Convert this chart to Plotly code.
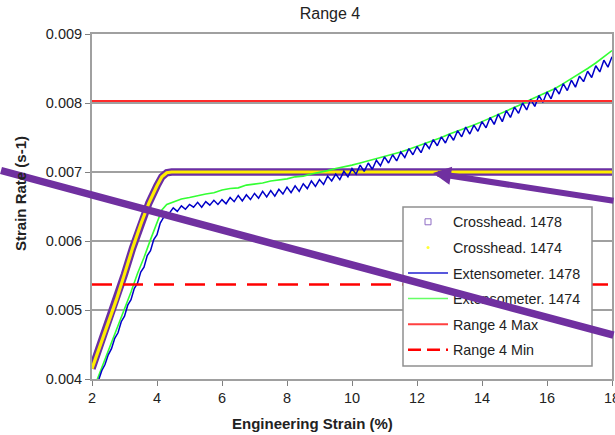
import plotly.graph_objects as go

# ---- data ---------------------------------------------------------------
# Crosshead-based strain rate (programmed ramp, both specimens)
cross_strain = [2.0, 2.25, 2.5, 2.75, 3.0, 3.25, 3.5, 3.75, 4.0, 4.15, 4.3,
                4.45, 6.0, 8.0, 10.0, 12.0, 14.0, 16.0, 18.0]
cross_rate_1478 = [0.00415, 0.00448, 0.00480, 0.00515, 0.00552, 0.00590,
                   0.00624, 0.00655, 0.00680, 0.00693, 0.00699, 0.00700,
                   0.00700, 0.00700, 0.00700, 0.00700, 0.00700, 0.00700,
                   0.00700]
cross_rate_1474 = [0.00415, 0.00448, 0.00480, 0.00515, 0.00552, 0.00590,
                   0.00624, 0.00655, 0.00680, 0.00693, 0.00699, 0.00700,
                   0.00700, 0.00700, 0.00700, 0.00700, 0.00700, 0.00700,
                   0.00700]

# Extensometer strain rate, specimen 1478 (noisy signal)
ext_strain_1478 = [
    2.2, 2.3, 2.4, 2.5, 2.6, 2.7, 2.8, 2.9, 3.0, 3.1, 3.2, 3.3, 3.4, 3.5,
    3.6, 3.7, 3.8, 3.9, 4.0, 4.1, 4.2,
    4.25, 4.375, 4.5, 4.625, 4.75, 4.875, 5.0,
    5.125, 5.25, 5.375, 5.5, 5.625, 5.75, 5.875, 6.0,
    6.125, 6.25, 6.375, 6.5, 6.625, 6.75, 6.875, 7.0,
    7.125, 7.25, 7.375, 7.5, 7.625, 7.75, 7.875, 8.0,
    8.125, 8.25, 8.375, 8.5, 8.625, 8.75, 8.875, 9.0,
    9.125, 9.25, 9.375, 9.5, 9.625, 9.75, 9.875, 10.0,
    10.125, 10.25, 10.375, 10.5, 10.625, 10.75, 10.875, 11.0,
    11.125, 11.25, 11.375, 11.5, 11.625, 11.75, 11.875, 12.0,
    12.125, 12.25, 12.375, 12.5, 12.625, 12.75, 12.875, 13.0,
    13.125, 13.25, 13.375, 13.5, 13.625, 13.75, 13.875, 14.0,
    14.125, 14.25, 14.375, 14.5, 14.625, 14.75, 14.875, 15.0,
    15.125, 15.25, 15.375, 15.5, 15.625, 15.75, 15.875, 16.0,
    16.125, 16.25, 16.375, 16.5, 16.625, 16.75, 16.875, 17.0,
    17.125, 17.25, 17.375, 17.5, 17.625, 17.75, 17.875, 18.0,
]
ext_rate_1478 = [
    0.00398, 0.00412, 0.00421, 0.00435, 0.00444, 0.00459, 0.00467, 0.00483,
    0.00491, 0.00507, 0.00515, 0.00531, 0.00539, 0.00555, 0.00562, 0.00579,
    0.00586, 0.00602, 0.00609, 0.00626, 0.00634,
    0.00642, 0.00640, 0.00648, 0.00643, 0.00651, 0.00646, 0.00653,
    0.00649, 0.00656, 0.00649, 0.00657, 0.00652, 0.00659, 0.00653, 0.00660,
    0.00654, 0.00663, 0.00657, 0.00666, 0.00658, 0.00667, 0.00660, 0.00669,
    0.00662, 0.00672, 0.00664, 0.00673, 0.00665, 0.00675, 0.00668, 0.00678,
    0.00670, 0.00680, 0.00672, 0.00683, 0.00676, 0.00687, 0.00679, 0.00689,
    0.00682, 0.00694, 0.00687, 0.00697, 0.00689, 0.00701, 0.00693, 0.00705,
    0.00697, 0.00710, 0.00701, 0.00713, 0.00704, 0.00717, 0.00709, 0.00722,
    0.00713, 0.00725, 0.00716, 0.00729, 0.00721, 0.00734, 0.00725, 0.00737,
    0.00728, 0.00742, 0.00734, 0.00747, 0.00738, 0.00751, 0.00742, 0.00755,
    0.00746, 0.00760, 0.00751, 0.00765, 0.00755, 0.00768, 0.00759, 0.00773,
    0.00764, 0.00779, 0.00769, 0.00784, 0.00773, 0.00789, 0.00779, 0.00794,
    0.00785, 0.00800, 0.00790, 0.00805, 0.00795, 0.00811, 0.00801, 0.00816,
    0.00806, 0.00822, 0.00813, 0.00828, 0.00818, 0.00833, 0.00823, 0.00839,
    0.00831, 0.00846, 0.00837, 0.00854, 0.00845, 0.00862, 0.00852, 0.00867,
]

# Extensometer strain rate, specimen 1474
ext_strain_1474 = [
    2.15, 2.4, 2.6, 2.8, 3.0, 3.2, 3.4, 3.6, 3.8, 4.0, 4.15, 4.3,
    4.5, 4.75, 5.0, 5.25, 5.5, 5.75, 6.0, 6.25, 6.5, 6.75, 7.0, 7.25,
    7.5, 7.75, 8.0, 8.25, 8.5, 8.75, 9.0, 9.25, 9.5, 9.75, 10.0, 10.25,
    10.5, 10.75, 11.0, 11.25, 11.5, 11.75, 12.0, 12.25, 12.5, 12.75, 13.0,
    13.25, 13.5, 13.75, 14.0, 14.25, 14.5, 14.75, 15.0, 15.25, 15.5, 15.75,
    16.0, 16.25, 16.5, 16.75, 17.0, 17.25, 17.5, 17.75, 18.0,
]
ext_rate_1474 = [
    0.00398, 0.00428, 0.00453, 0.00477, 0.00503, 0.00526, 0.00553, 0.00576,
    0.00602, 0.00626, 0.00645, 0.00653,
    0.00657, 0.00661, 0.00663, 0.00666, 0.00668, 0.00670, 0.00674, 0.00676,
    0.00677, 0.00681, 0.00682, 0.00684, 0.00687, 0.00688, 0.00690, 0.00693,
    0.00694, 0.00697, 0.00699, 0.00702, 0.00705, 0.00707, 0.00710, 0.00713,
    0.00716, 0.00720, 0.00722, 0.00726, 0.00729, 0.00733, 0.00737, 0.00741,
    0.00745, 0.00750, 0.00755, 0.00759, 0.00764, 0.00768, 0.00773, 0.00778,
    0.00783, 0.00789, 0.00794, 0.00799, 0.00805, 0.00810, 0.00815, 0.00821,
    0.00828, 0.00835, 0.00842, 0.00850, 0.00858, 0.00867, 0.00876,
]

# Range 4 limits
limit_strain = [2.0, 18.0]
range4_max = 0.00803
range4_min = 0.00537

x_ticks = [2, 4, 6, 8, 10, 12, 14, 16, 18]
y_ticks = [0.004, 0.005, 0.006, 0.007, 0.008, 0.009]

# ---- page geometry (pixels) --------------------------------------------
W, H = 615, 435
ML, MR, MT, MB = 92, 3, 34, 56
PW, PH = W - ML - MR, H - MT - MB


def px_to_paper(px, py):
    return (px - ML) / PW, (H - MB - py) / PH


FONT = "Liberation Sans, Arial, sans-serif"
PURPLE = "#7030A0"
BAND_PURPLE = "#6B2FA3"
YELLOW = "#FFEE00"
BLUE = "#0000C8"
GREEN = "#33FF33"
RED = "#FF2A2A"
TEXT = "#222222"

fig = go.Figure()

# crosshead curves: purple band with yellow core
fig.add_trace(go.Scatter(x=cross_strain, y=cross_rate_1478, mode="lines",
                         line=dict(color=BAND_PURPLE, width=7.5),
                         showlegend=False, hoverinfo="skip"))
fig.add_trace(go.Scatter(x=cross_strain, y=cross_rate_1474, mode="lines",
                         line=dict(color=YELLOW, width=3.2),
                         showlegend=False, hoverinfo="skip"))

# extensometer curves
fig.add_trace(go.Scatter(x=ext_strain_1474, y=ext_rate_1474, mode="lines",
                         line=dict(color=GREEN, width=1.6),
                         showlegend=False))
fig.add_trace(go.Scatter(x=ext_strain_1478, y=ext_rate_1478, mode="lines",
                         line=dict(color=BLUE, width=1.5),
                         showlegend=False))

# limit lines
fig.add_trace(go.Scatter(x=limit_strain, y=[range4_max, range4_max],
                         mode="lines", line=dict(color=RED, width=2),
                         showlegend=False))
fig.add_trace(go.Scatter(x=limit_strain, y=[range4_min, range4_min],
                         mode="lines",
                         line=dict(color="#FF0000", width=2.5, dash="20px,11px"),
                         showlegend=False))

# legend entries
legend_items = [
    dict(name="Crosshead. 1478", mode="markers",
         marker=dict(symbol="square-open", size=6, color="#8E6CC4",
                     line=dict(width=1))),
    dict(name="Crosshead. 1474", mode="markers",
         marker=dict(symbol="circle", size=3, color="#FFFF33")),
    dict(name="Extensometer. 1478", mode="lines",
         line=dict(color="#2020D0", width=1.6)),
    dict(name="Extensometer. 1474", mode="lines",
         line=dict(color="#66FF66", width=1.6)),
    dict(name="Range 4 Max", mode="lines",
         line=dict(color="#FF4040", width=2)),
    dict(name="Range 4 Min", mode="lines",
         line=dict(color="#FF0000", width=2.5, dash="13px,6px")),
]
for i, item in enumerate(legend_items):
    fig.add_trace(go.Scatter(x=[None], y=[None], legendgroup=f"g{i}",
                             showlegend=True, **item))

# legend frame (white box with grey border, above the data lines)
bx0, by0 = px_to_paper(403, 366)
bx1, by1 = px_to_paper(592, 207)
fig.add_shape(type="rect", xref="paper", yref="paper",
              x0=bx0, y0=by0, x1=bx1, y1=by1, layer="above",
              fillcolor="white", line=dict(color="#909090", width=1.5))

# purple call-out lines drawn over the chart
lx0, ly0 = px_to_paper(-6, 170.5)
fig.add_annotation(xref="paper", yref="paper", x=lx0, y=ly0,
                   ax=630, ay=630 * 0.262, axref="pixel", ayref="pixel",
                   text="", showarrow=True, arrowhead=0,
                   arrowwidth=7.5, arrowcolor=PURPLE)
tx, ty = px_to_paper(433, 173)
fig.add_annotation(xref="paper", yref="paper", x=tx, y=ty,
                   ax=190, ay=28, text="", showarrow=True, arrowhead=2,
                   arrowsize=0.6, arrowwidth=6, arrowcolor=PURPLE)

# axis titles
xt, yt = px_to_paper(312, 423)
fig.add_annotation(xref="paper", yref="paper", x=xt, y=yt,
                   text="<b>Engineering Strain (%)</b>", showarrow=False,
                   font=dict(family=FONT, size=15, color=TEXT),
                   xanchor="center", yanchor="middle")
xa, ya = px_to_paper(21, 194)
fig.add_annotation(xref="paper", yref="paper", x=xa, y=ya,
                   text="<b>Strain Rate (s-1)</b>", showarrow=False,
                   textangle=-90,
                   font=dict(family=FONT, size=15, color=TEXT),
                   xanchor="center", yanchor="middle")

fig.update_layout(
    width=W, height=H,
    margin=dict(l=ML, r=MR, t=MT, b=MB, autoexpand=False),
    paper_bgcolor="white", plot_bgcolor="white",
    font=dict(family=FONT, size=14, color=TEXT),
    title=dict(text="Range 4", x=330 / W, xref="container", xanchor="center",
               y=1 - 13 / H, yref="container", yanchor="middle",
               font=dict(family=FONT, size=16, color=TEXT)),
    xaxis=dict(range=[2, 18], tickvals=x_ticks, showgrid=False,
               zeroline=False, showline=True, linecolor="#A0A0A0",
               linewidth=2, mirror=True, ticks="outside", ticklen=5,
               tickcolor="#808080", tickfont=dict(size=14.5, color=TEXT),
               ticklabeloverflow="allow", automargin=False),
    yaxis=dict(range=[0.004, 0.009], tickvals=y_ticks, tickformat=".3f",
               showgrid=True, gridcolor="#A0A0A0", gridwidth=1.5,
               zeroline=False, showline=True, linecolor="#A0A0A0",
               linewidth=2, mirror=True, ticks="outside", ticklen=5,
               tickcolor="#808080", tickfont=dict(size=14.5, color=TEXT),
               automargin=False),
    legend=dict(x=(403 - ML) / PW, y=(H - MB - 206) / PH,
                xanchor="left", yanchor="top",
                bgcolor="rgba(0,0,0,0)", borderwidth=0,
                font=dict(family=FONT, size=14.3, color=TEXT),
                tracegroupgap=4, itemwidth=40),
    showlegend=True,
)

fig.write_html("out.html")
